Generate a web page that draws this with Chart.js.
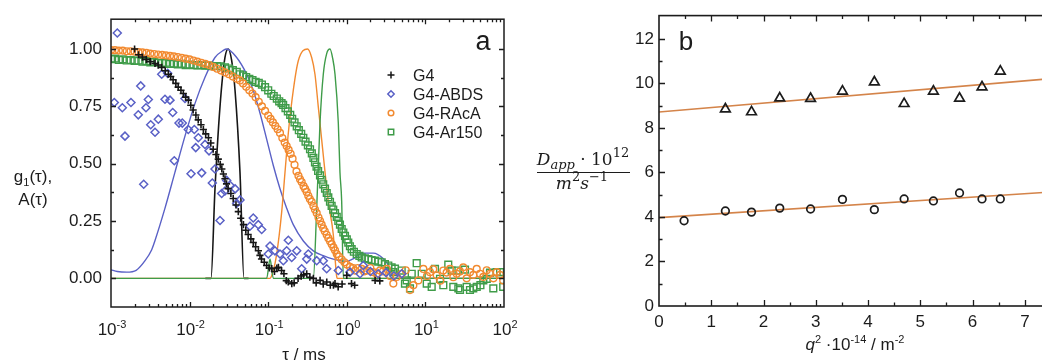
<!DOCTYPE html>
<html>
<head>
<meta charset="utf-8">
<script src="https://cdn.jsdelivr.net/npm/chart.js@4.4.1/dist/chart.umd.min.js"></script>
<style>
  html, body { margin: 0; padding: 0; background: #fff; width: 1042px; height: 360px; overflow: hidden; }
  #wrapA { position: absolute; left: 0; top: 0; width: 520px; height: 360px; }
  #wrapB { position: absolute; left: 520px; top: 0; width: 560px; height: 360px; }
</style>
</head>
<body>
<div id="wrapA"><canvas id="chartA" width="520" height="360"></canvas></div>
<div id="wrapB"><canvas id="chartB" width="560" height="360"></canvas></div>
<script>
// ---- panel a : correlation functions g1(tau) and distributions A(tau) ----
// x values are given as log10(tau / ms)
const tauTicks = [1e-3, 1e-2, 1e-1, 1, 10, 100];
const g1Ticks = [0, 0.25, 0.5, 0.75, 1.0];
const seriesNames = ['G4', 'G4-ABDS', 'G4-RAcA', 'G4-Ar150'];
const seriesColors = ['#161616', '#5a61c6', '#f28a30', '#3f9c49'];

const g4Points = [
  [-2.70,1.00],[-2.65,0.975],
  [-2.60,0.965],[-2.55,0.955],[-2.50,0.945],[-2.44,0.937],[-2.40,0.93],[-2.355,0.92],[-2.31,0.905],[-2.27,0.89],
  [-2.24,0.88],[-2.21,0.866],[-2.175,0.85],[-2.145,0.834],[-2.11,0.82],[-2.08,0.806],[-2.05,0.79],[-2.015,0.777],
  [-1.985,0.755],[-1.955,0.734],[-1.92,0.712],[-1.89,0.691],[-1.855,0.67],[-1.825,0.649],[-1.795,0.63],[-1.76,0.613],
  [-1.73,0.59],[-1.70,0.563],[-1.665,0.54],[-1.635,0.52],[-1.61,0.497],[-1.59,0.477],[-1.57,0.455],[-1.55,0.434],
  [-1.53,0.412],[-1.51,0.391],[-1.475,0.37],[-1.445,0.348],[-1.41,0.32],[-1.38,0.291],[-1.35,0.262],[-1.315,0.234],
  [-1.285,0.21],[-1.255,0.191],[-1.22,0.172],[-1.19,0.156],[-1.16,0.138],[-1.125,0.12],[-1.105,0.10],[-1.085,0.084],
  [-1.05,0.07],[-1.02,0.056],[-0.985,0.045],[-0.955,0.042],[-0.92,0.03],[-0.89,0.045],[-0.87,0.048],[-0.83,0.034],
  [-0.80,0.02],[-0.77,-0.01],[-0.745,-0.016],[-0.70,-0.023],[-0.67,-0.02],[-0.62,0.00],[-0.58,0.01],[-0.55,0.015],
  [-0.51,0.02],[-0.47,0.005],[-0.425,0.00],[-0.39,-0.02],[-0.34,-0.009],[-0.30,-0.025],[-0.255,-0.016],[-0.21,-0.03],
  [-0.17,-0.03],[-0.15,-0.023],[-0.11,-0.037],[-0.06,-0.025],[0.00,0.013],[0.06,-0.023],[0.10,-0.03],[0.36,-0.009],
  [0.42,-0.011]
];

const abdsPoints = [
  [-2.92,1.07],[-2.958,0.767],[-2.856,0.744],[-2.746,0.767],[-2.822,0.62],[-2.622,0.839],[-2.525,0.78],[-2.653,0.713],
  [-2.555,0.744],[-2.495,0.67],[-2.398,0.694],[-2.44,0.637],[-2.584,0.41],[-2.313,0.781],[-2.249,0.777],[-2.355,0.89],
  [-2.279,0.894],[-2.215,0.723],[-2.135,0.677],[-2.093,0.677],[-2.195,0.513],[-2.059,0.784],[-2.017,0.649],[-1.94,0.649],
  [-1.889,0.613],[-1.922,0.57],[-1.804,0.584],[-1.753,0.556],[-1.982,0.456],[-1.846,0.46],[-1.677,0.477],[-1.711,0.416],
  [-1.613,0.252],[-1.592,0.37],[-1.55,0.381],[-1.528,0.427],[-1.486,0.406],[-1.42,0.39],[-1.359,0.342],[-1.401,0.327],
  [-1.19,0.263],[-1.126,0.234],[-1.083,0.213],[-1.232,0.227],[-0.977,0.141],[-0.914,0.12],[-0.999,0.106],[-0.85,0.106],
  [-0.744,0.166],[-0.765,0.12],[-0.808,0.077],[-0.637,0.12],[-0.701,0.091],[-0.574,0.042],[-0.49,0.106],[-0.51,0.084],
  [-0.383,0.077],[-0.299,0.077],[-0.256,0.042],[-0.108,0.034],[0.041,0.027],[0.168,0.02],[0.21,0.056],[0.30,0.03],
  [0.40,0.02],[0.50,0.025],[0.60,0.01],[0.70,0.02]
];

const racaPoints = [
  [-3.00,0.995],[-2.95,0.995],[-2.90,0.993],[-2.85,0.993],[-2.80,0.990],[-2.75,0.990],[-2.70,0.988],[-2.65,0.986],
  [-2.60,0.985],[-2.55,0.983],[-2.50,0.980],[-2.45,0.978],[-2.40,0.976],[-2.35,0.974],[-2.30,0.972],[-2.25,0.970],
  [-2.20,0.968],[-2.15,0.965],[-2.10,0.962],[-2.05,0.958],[-2.00,0.955],[-1.95,0.950],[-1.90,0.945],[-1.85,0.940],
  [-1.80,0.935],[-1.75,0.930],[-1.70,0.922],[-1.65,0.914],[-1.60,0.906],[-1.55,0.898],[-1.50,0.890],[-1.45,0.880],
  [-1.40,0.870],[-1.36,0.863],[-1.32,0.850],[-1.28,0.835],[-1.24,0.820],[-1.20,0.806],[-1.16,0.790],[-1.12,0.770],
  [-1.08,0.750],[-1.04,0.730],[-1.00,0.710],[-0.97,0.695],[-0.94,0.680],[-0.91,0.665],[-0.88,0.650],[-0.85,0.634],
  [-0.82,0.612],[-0.79,0.592],[-0.765,0.577],[-0.74,0.560],[-0.715,0.543],[-0.69,0.522],[-0.665,0.495],[-0.64,0.466],
  [-0.615,0.447],[-0.595,0.432],[-0.574,0.420],[-0.55,0.402],[-0.53,0.390],[-0.51,0.377],[-0.49,0.360],[-0.47,0.346],
  [-0.447,0.334],[-0.425,0.315],[-0.405,0.300],[-0.383,0.285],[-0.36,0.265],[-0.34,0.250],[-0.32,0.234],[-0.30,0.218],
  [-0.28,0.205],[-0.256,0.190],[-0.235,0.175],[-0.213,0.162],[-0.192,0.149],[-0.17,0.135],[-0.15,0.122],[-0.128,0.106],
  [-0.10,0.095],[-0.065,0.082],[-0.03,0.070],[0.00,0.060],[0.04,0.050],[0.08,0.045],[0.104,0.034],[0.14,0.045],
  [0.19,0.041],[0.22,0.030],[0.253,0.034],[0.30,0.045],[0.337,0.027],[0.38,0.020],[0.422,0.034],[0.46,0.030],
  [0.508,0.041],[0.55,0.010],[0.592,-0.023],[0.635,0.006],[0.698,0.020],[0.75,0.035],[0.804,-0.051],[0.847,-0.030],
  [0.91,-0.009],[0.974,0.041],[1.02,0.010],[1.058,0.027],[1.10,0.040],[1.144,0.013],[1.19,-0.010],[1.228,0.034],
  [1.27,0.025],[1.313,0.041],[1.355,0.005],[1.398,0.020],[1.44,0.030],[1.482,0.048],[1.525,0.000],[1.567,0.027],
  [1.61,0.015],[1.653,0.041],[1.695,0.020],[1.737,0.006],[1.78,0.035],[1.822,0.020],[1.865,0.000],[1.907,0.027],
  [1.95,0.015],[1.99,-0.009]
];

const ar150Points = [
  [-3.00,0.956],[-2.95,0.958],[-2.90,0.952],[-2.85,0.955],[-2.80,0.950],[-2.75,0.952],[-2.70,0.948],[-2.65,0.950],
  [-2.60,0.945],[-2.55,0.947],[-2.50,0.942],[-2.45,0.944],[-2.40,0.940],[-2.35,0.938],[-2.30,0.940],[-2.25,0.935],
  [-2.20,0.937],[-2.15,0.933],[-2.10,0.935],[-2.05,0.930],[-2.00,0.932],[-1.95,0.930],[-1.90,0.928],[-1.85,0.930],
  [-1.80,0.927],[-1.75,0.928],[-1.70,0.925],[-1.65,0.926],[-1.60,0.924],[-1.55,0.920],[-1.50,0.915],[-1.45,0.908],
  [-1.40,0.900],[-1.36,0.890],[-1.32,0.885],[-1.28,0.878],[-1.24,0.870],[-1.20,0.864],[-1.16,0.857],[-1.12,0.852],
  [-1.08,0.845],[-1.04,0.834],[-1.00,0.820],[-0.96,0.805],[-0.93,0.795],[-0.89,0.784],[-0.86,0.772],[-0.83,0.764],
  [-0.81,0.756],[-0.78,0.742],[-0.75,0.728],[-0.72,0.713],[-0.695,0.696],[-0.665,0.680],[-0.637,0.663],[-0.61,0.646],
  [-0.58,0.630],[-0.553,0.613],[-0.525,0.596],[-0.495,0.580],[-0.468,0.563],[-0.445,0.545],[-0.425,0.525],[-0.405,0.506],
  [-0.385,0.487],[-0.365,0.468],[-0.341,0.449],[-0.32,0.430],[-0.30,0.410],[-0.277,0.391],[-0.255,0.372],[-0.235,0.353],
  [-0.214,0.334],[-0.193,0.316],[-0.172,0.300],[-0.15,0.284],[-0.128,0.268],[-0.108,0.250],[-0.087,0.234],[-0.065,0.215],
  [-0.044,0.200],[-0.023,0.185],[0.00,0.170],[0.019,0.156],[0.04,0.140],[0.062,0.127],[0.09,0.116],[0.126,0.106],
  [0.16,0.098],[0.19,0.091],[0.23,0.087],[0.274,0.084],[0.315,0.080],[0.359,0.077],[0.40,0.073],[0.444,0.070],
  [0.485,0.062],[0.528,0.056],[0.57,0.048],[0.592,0.027],[0.613,0.042],[0.698,0.034],[0.74,-0.023],[0.762,-0.009],
  [0.804,-0.044],[0.826,0.020],[0.889,0.066],[0.953,0.020],[1.017,-0.023],[1.08,-0.037],[1.122,0.041],[1.186,-0.002],
  [1.228,-0.030],[1.291,0.060],[1.334,0.034],[1.355,-0.037],[1.398,0.034],[1.419,-0.044],[1.44,-0.051],[1.504,0.038],
  [1.525,-0.037],[1.567,-0.051],[1.609,-0.044],[1.653,-0.037],[1.70,-0.030],[1.737,-0.009],[1.78,-0.002],[1.822,0.025],
  [1.864,-0.044],[1.907,0.027],[1.95,0.027],[1.99,-0.037]
];

// distributions A(tau)
const g4Dist = [[-1.80,0],[-1.728,0],[-1.677,0.39],[-1.613,0.75],[-1.55,0.963],[-1.508,1.0],[-1.465,0.95],[-1.422,0.82],[-1.359,0.463],[-1.308,0],[-1.25,0]];
const abdsDist = [
  [-3,0.037],[-2.92,0.03],[-2.8,0.027],[-2.68,0.035],[-2.567,0.077],[-2.482,0.125],[-2.44,0.165],[-2.313,0.306],
  [-2.186,0.463],[-2.059,0.62],[-1.931,0.763],[-1.804,0.877],[-1.677,0.963],[-1.571,0.994],[-1.528,1.0],[-1.401,0.963],
  [-1.274,0.89],[-1.19,0.82],[-1.104,0.72],[-1.019,0.606],[-0.935,0.492],[-0.85,0.391],[-0.765,0.306],[-0.681,0.234],
  [-0.553,0.163],[-0.426,0.12],[-0.299,0.099],[-0.172,0.084],[-0.044,0.075],[0.0,0.074],[0.08,0.085],[0.21,0.11],
  [0.337,0.11],[0.465,0.085],[0.55,0.045],[0.6,0],[2,0]
];
const racaDist = [
  [-3,0],[-0.977,0],[-0.935,0.034],[-0.892,0.106],[-0.828,0.291],[-0.786,0.463],[-0.744,0.634],[-0.681,0.82],
  [-0.617,0.949],[-0.5,1.0],[-0.447,0.963],[-0.405,0.89],[-0.363,0.749],[-0.32,0.606],[-0.277,0.463],[-0.235,0.334],
  [-0.172,0.191],[-0.15,0.091],[-0.128,0.006],[-0.12,0],[2,0]
];
const ar150Dist = [
  [-3,0],[-1.019,0],[-0.977,0.084],[-0.935,0],[-0.426,0],[-0.383,0.306],[-0.341,0.677],[-0.299,0.89],[-0.256,0.98],
  [-0.214,1.0],[-0.18,0.96],[-0.15,0.89],[-0.108,0.677],[-0.087,0.463],[-0.065,0.334],[-0.044,0],[2,0]
];

// ---- panel b : apparent diffusion coefficients vs q^2 ----
const q2Values = [0.48, 1.27, 1.77, 2.31, 2.90, 3.51, 4.12, 4.69, 5.25, 5.75, 6.18, 6.53];
const dTriangles = [null, 8.85, 8.72, 9.34, 9.32, 9.65, 10.06, 9.09, 9.65, 9.33, 9.84, 10.55];
const dCircles = [3.83, 4.27, 4.22, 4.40, 4.36, 4.79, 4.33, 4.81, 4.72, 5.08, 4.81, 4.81];
const fitQ2 = [0, 7.5];
const fitUpper = [8.72, 10.22];
const fitLower = [3.97, 5.12];
const q2Ticks = [0, 1, 2, 3, 4, 5, 6, 7];
const dTicks = [0, 2, 4, 6, 8, 10, 12];

const FONT = '"Liberation Sans", Arial, sans-serif';
const SERIF = '"DejaVu Serif", "Liberation Serif", serif';
const INK = '#1c1c1c';

const toXY = pts => pts.map(([lt, v]) => ({ x: Math.pow(10, lt), y: v }));

// draw a row of text pieces (for sub/superscripts), centred on cx
function drawRuns(ctx, runs, cx, baseY) {
    let w = 0;
    runs.forEach(r => { ctx.font = r.font; r.w = ctx.measureText(r.t).width; w += r.w; });
    let x = cx - w / 2;
    ctx.textAlign = 'left';
    ctx.textBaseline = 'alphabetic';
    runs.forEach(r => { ctx.font = r.font; ctx.fillText(r.t, x, baseY + (r.dy || 0)); x += r.w; });
    return w;
}

// frame round the plot area with inward ticks on all sides
const framePlugin = {
    id: 'frame',
    afterDatasetsDraw(chart, args, opts) {
        const { ctx, chartArea: a, scales } = chart;
        ctx.save();
        ctx.strokeStyle = INK;
        ctx.lineWidth = opts.lineWidth;
        ctx.strokeRect(a.left, a.top, a.right - a.left, a.bottom - a.top);
        ctx.beginPath();
        const xt = (vals, len) => vals.forEach(v => {
            const px = Math.round(scales.x.getPixelForValue(v)) + 0.5;
            if (px < a.left + 1 || px > a.right - 1) return;
            ctx.moveTo(px, a.bottom); ctx.lineTo(px, a.bottom - len);
            ctx.moveTo(px, a.top); ctx.lineTo(px, a.top + len);
        });
        const yt = (vals, len) => vals.forEach(v => {
            const py = Math.round(scales.y.getPixelForValue(v)) + 0.5;
            if (py < a.top + 1 || py > a.bottom - 1) return;
            ctx.moveTo(a.left, py); ctx.lineTo(a.left + len, py);
            ctx.moveTo(a.right, py); ctx.lineTo(a.right - len, py);
        });
        xt(opts.xMajor, opts.major); xt(opts.xMinor, opts.minor);
        yt(opts.yMajor, opts.major); yt(opts.yMinor, opts.minor);
        ctx.lineWidth = 1.3;
        ctx.stroke();
        ctx.restore();
    }
};

const logMinor = [];
for (let n = -3; n < 2; n++) for (let k = 2; k <= 9; k++) logMinor.push(k * Math.pow(10, n));

// texts of panel a: tick labels with exponents, titles, legend, letter
const textsA = {
    id: 'textsA',
    afterDraw(chart) {
        const { ctx, scales } = chart;
        ctx.save();
        ctx.fillStyle = INK;
        tauTicks.forEach(v => {
            const n = Math.round(Math.log10(v));
            drawRuns(ctx, [
                { t: '10', font: `17px ${FONT}` },
                { t: String(n), font: `11px ${FONT}`, dy: -7.5 }
            ], scales.x.getPixelForValue(v) + 1, 335);
        });
        drawRuns(ctx, [{ t: 'τ / ms', font: `17px ${FONT}` }], 304, 360);
        drawRuns(ctx, [
            { t: 'g', font: `17px ${FONT}` },
            { t: '1', font: `11px ${FONT}`, dy: 4 },
            { t: '(τ),', font: `17px ${FONT}` }
        ], 33, 182);
        drawRuns(ctx, [{ t: 'A(τ)', font: `17px ${FONT}` }], 33, 205);
        drawRuns(ctx, [{ t: 'a', font: `27px ${FONT}` }], 483, 50);

        // legend
        const rows = [80.5, 99.5, 118.5, 137.5];
        ctx.lineWidth = 1.5;
        seriesNames.forEach((name, i) => {
            const cy = rows[i] - 5.5, cx = 391;
            ctx.strokeStyle = seriesColors[i];
            ctx.beginPath();
            if (i === 0) { ctx.moveTo(cx - 3.5, cy); ctx.lineTo(cx + 3.5, cy); ctx.moveTo(cx, cy - 3.5); ctx.lineTo(cx, cy + 3.5); }
            if (i === 1) { ctx.moveTo(cx, cy - 3.2); ctx.lineTo(cx + 3.2, cy); ctx.lineTo(cx, cy + 3.2); ctx.lineTo(cx - 3.2, cy); ctx.closePath(); }
            if (i === 2) { ctx.arc(cx, cy, 2.8, 0, Math.PI * 2); }
            if (i === 3) { ctx.rect(cx - 2.7, cy - 2.7, 5.4, 5.4); }
            ctx.stroke();
            ctx.fillStyle = INK;
            ctx.font = `16px ${FONT}`;
            ctx.textAlign = 'left';
            ctx.textBaseline = 'alphabetic';
            ctx.fillText(name, 413, rows[i]);
        });
        ctx.restore();
    }
};

const scatterStyles = [
    { pointStyle: 'cross', pointRadius: 3.6, borderWidth: 1.6 },
    { pointStyle: 'rectRot', pointRadius: 4.0, borderWidth: 1.5 },
    { pointStyle: 'circle', pointRadius: 3.4, borderWidth: 1.4 },
    { pointStyle: 'rect', pointRadius: 4.8, borderWidth: 1.4 }
];
const pointSets = [g4Points, abdsPoints, racaPoints, ar150Points];
const distSets = [g4Dist, abdsDist, racaDist, ar150Dist];

const datasetsA = [];
pointSets.forEach((pts, i) => {
    datasetsA.push({
        label: seriesNames[i],
        data: toXY(pts),
        showLine: false,
        borderColor: seriesColors[i],
        backgroundColor: 'rgba(0,0,0,0)',
        ...scatterStyles[i]
    });
});
// green distribution first so its zero line ends up on top of the others
[3, 2, 1, 0].forEach(i => {
    datasetsA.push({
        label: seriesNames[i] + ' A(τ)',
        data: toXY(distSets[i]),
        showLine: true,
        pointRadius: 0,
        borderColor: seriesColors[i],
        borderWidth: i === 0 ? 1.6 : 1.4,
        cubicInterpolationMode: 'monotone',
        fill: false
    });
});

new Chart(document.getElementById('chartA'), {
    type: 'scatter',
    data: { datasets: datasetsA },
    options: {
        responsive: false,
        animation: false,
        events: [],
        layout: { padding: { left: 0, top: 15, right: 16, bottom: 0 } },
        plugins: {
            legend: { display: false },
            tooltip: { enabled: false },
            frame: { lineWidth: 1.5, major: 5, minor: 3, xMajor: tauTicks, xMinor: logMinor,
                     yMajor: g1Ticks, yMinor: [0.125, 0.375, 0.625, 0.875] }
        },
        scales: {
            x: {
                type: 'logarithmic', min: 1e-3, max: 1e2,
                grid: { display: false, drawTicks: false }, border: { display: false },
                ticks: { display: false },
                afterBuildTicks: s => { s.ticks = tauTicks.map(v => ({ value: v, major: true })); },
                afterFit: s => { s.height = 53; }
            },
            y: {
                type: 'linear', min: -0.125, max: 1.13,
                grid: { display: false, drawTicks: false }, border: { display: false },
                ticks: { color: INK, padding: 9, font: { size: 17, family: FONT }, callback: v => v.toFixed(2) },
                afterBuildTicks: s => { s.ticks = g1Ticks.map(v => ({ value: v })); },
                afterFit: s => { s.width = 111; }
            }
        }
    },
    plugins: [framePlugin, textsA]
});

// ---- panel b ----
const textsB = {
    id: 'textsB',
    afterDraw(chart) {
        const { ctx } = chart;
        ctx.save();
        ctx.fillStyle = INK;
        drawRuns(ctx, [{ t: 'b', font: `26px ${FONT}` }], 166, 50);
        // y title as a fraction
        drawRuns(ctx, [
            { t: 'D', font: `italic 17px ${SERIF}` },
            { t: 'app', font: `italic 13px ${SERIF}`, dy: 4 },
            { t: ' · 10', font: `17px ${SERIF}` },
            { t: '12', font: `13px ${SERIF}`, dy: -8 }
        ], 63, 165);
        drawRuns(ctx, [
            { t: 'm', font: `italic 17px ${SERIF}` },
            { t: '2', font: `13px ${SERIF}`, dy: -8 },
            { t: 's', font: `italic 17px ${SERIF}` },
            { t: '−1', font: `13px ${SERIF}`, dy: -8 }
        ], 62, 189);
        ctx.strokeStyle = INK;
        ctx.lineWidth = 1.2;
        ctx.beginPath(); ctx.moveTo(17, 172.5); ctx.lineTo(110, 172.5); ctx.stroke();
        // x title
        drawRuns(ctx, [
            { t: 'q', font: `italic 17px ${FONT}` },
            { t: '2', font: `11px ${FONT}`, dy: -7 },
            { t: ' ·10', font: `17px ${FONT}` },
            { t: '-14', font: `11px ${FONT}`, dy: -7 },
            { t: ' / m', font: `17px ${FONT}` },
            { t: '-2', font: `11px ${FONT}`, dy: -7 }
        ], 335, 350);
        ctx.restore();
    }
};

const fitColor = '#d4844a';
new Chart(document.getElementById('chartB'), {
    type: 'scatter',
    data: {
        datasets: [
            { label: 'triangles', data: q2Values.map((q, i) => ({ x: q, y: dTriangles[i] })),
              pointStyle: 'triangle', pointRadius: 5.6, borderWidth: 1.7, borderColor: INK, backgroundColor: 'rgba(0,0,0,0)' },
            { label: 'circles', data: q2Values.map((q, i) => ({ x: q, y: dCircles[i] })),
              pointStyle: 'circle', pointRadius: 3.8, borderWidth: 1.7, borderColor: INK, backgroundColor: 'rgba(0,0,0,0)' },
            { label: 'fit upper', data: fitQ2.map((q, i) => ({ x: q, y: fitUpper[i] })),
              showLine: true, pointRadius: 0, borderColor: fitColor, borderWidth: 1.6 },
            { label: 'fit lower', data: fitQ2.map((q, i) => ({ x: q, y: fitLower[i] })),
              showLine: true, pointRadius: 0, borderColor: fitColor, borderWidth: 1.6 }
        ]
    },
    options: {
        responsive: false,
        animation: false,
        events: [],
        layout: { padding: { left: 0, top: 15.6, right: 29, bottom: 0 } },
        plugins: {
            legend: { display: false },
            tooltip: { enabled: false },
            frame: { lineWidth: 1.6, major: 6, minor: 3.5, xMajor: q2Ticks, xMinor: [0.5, 1.5, 2.5, 3.5, 4.5, 5.5, 6.5],
                     yMajor: dTicks, yMinor: [1, 3, 5, 7, 9, 11] }
        },
        scales: {
            x: {
                type: 'linear', min: 0, max: 7.5,
                grid: { display: false, drawTicks: false }, border: { display: false },
                ticks: { color: INK, padding: 6, font: { size: 17, family: FONT } },
                afterBuildTicks: s => { s.ticks = q2Ticks.map(v => ({ value: v })); },
                afterFit: s => { s.height = 54; }
            },
            y: {
                type: 'linear', min: 0, max: 13.05,
                grid: { display: false, drawTicks: false }, border: { display: false },
                ticks: { color: INK, padding: 5, font: { size: 17, family: FONT } },
                afterBuildTicks: s => { s.ticks = dTicks.map(v => ({ value: v })); },
                afterFit: s => { s.width = 139; }
            }
        }
    },
    plugins: [framePlugin, textsB]
});
</script>
</body>
</html>
